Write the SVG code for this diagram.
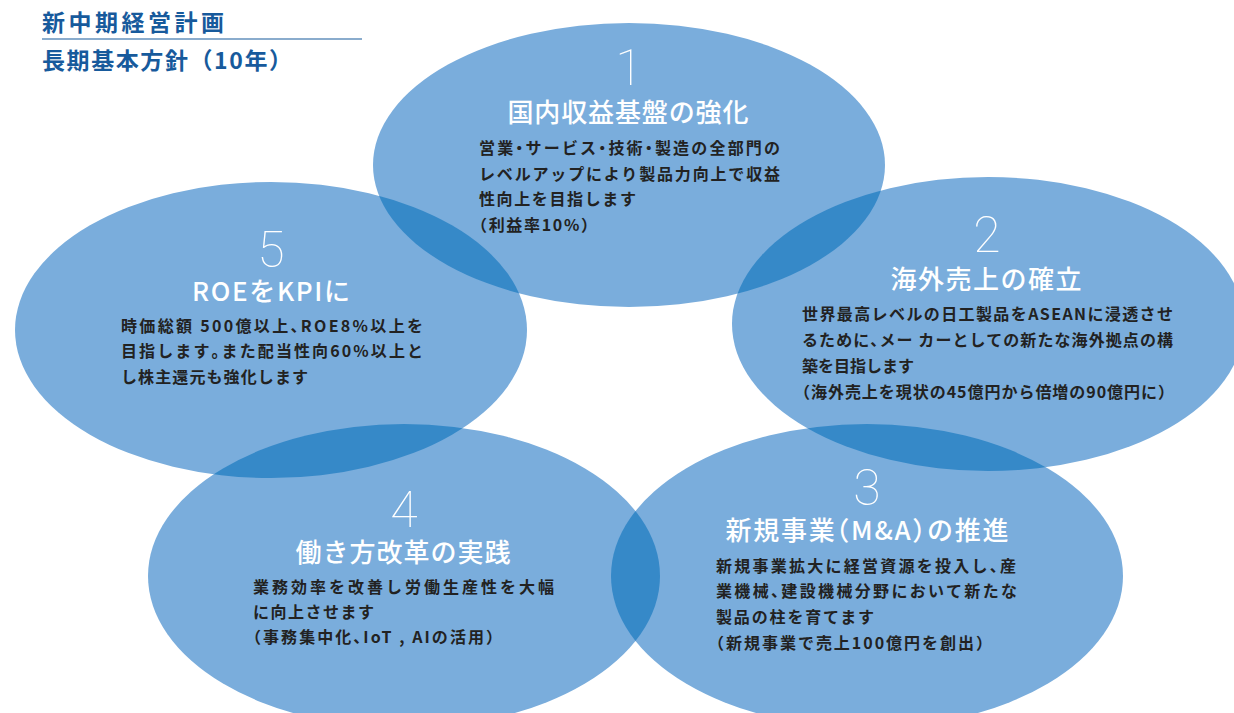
<svg xmlns="http://www.w3.org/2000/svg" xmlns:xlink="http://www.w3.org/1999/xlink" width="1234" height="713" viewBox="0 0 1234 713">
<style>
.bub{fill:#7aaddc}
.lens{fill:#3689c8}
.num{font-family:Roboto,"Open Sans",sans-serif;font-weight:100;font-size:50px;fill:#fff;text-anchor:middle}
.ttl{font-family:"Noto Sans CJK JP",sans-serif;font-weight:500;font-size:26px;fill:#fff;text-anchor:middle}
.body{font-family:"Noto Sans CJK JP",sans-serif;font-weight:700;font-size:16px;fill:#222}
.hd{font-family:"Noto Sans CJK JP",sans-serif;font-weight:700;font-size:23px;fill:#175a9c}
.h{font-feature-settings:"halt"}
</style>
<defs>
<ellipse id="e1" cx="629" cy="165" rx="256" ry="142"/>
<ellipse id="e2" cx="988" cy="324" rx="256" ry="147"/>
<ellipse id="e3" cx="867" cy="576" rx="256" ry="152"/>
<ellipse id="e4" cx="404" cy="576" rx="256" ry="152"/>
<ellipse id="e5" cx="271" cy="330" rx="256" ry="148"/>
<clipPath id="c1"><use xlink:href="#e1"/></clipPath>
<clipPath id="c2"><use xlink:href="#e2"/></clipPath>
<clipPath id="c3"><use xlink:href="#e3"/></clipPath>
<clipPath id="c5"><use xlink:href="#e5"/></clipPath>
</defs>

<g id="header">
<text class="hd" x="42" y="31" textLength="182" lengthAdjust="spacing">新中期経営計画</text>
<line x1="42" y1="39" x2="362" y2="39" stroke="#175a9c" stroke-width="1.2"/>
<text class="hd" x="42" y="68.5" textLength="250" lengthAdjust="spacing">長期基本方針（10年）</text>
</g>

<g id="node1">
<use xlink:href="#e1" class="bub"/>
<text class="num" x="629" y="85">1</text>
<text class="ttl" x="628" y="122" textLength="241" lengthAdjust="spacing">国内収益基盤の強化</text>
<text class="body" x="479" y="154" textLength="301" lengthAdjust="spacing">営業<tspan class="h">・</tspan>サービス<tspan class="h">・</tspan>技術<tspan class="h">・</tspan>製造の全部門の</text>
<text class="body" x="479" y="180" textLength="301" lengthAdjust="spacing">レベルアップにより製品力向上で収益</text>
<text class="body" x="479" y="205" textLength="157" lengthAdjust="spacing">性向上を目指します</text>
<text class="body" x="479" y="231" textLength="110" lengthAdjust="spacing"><tspan class="h">（</tspan>利益率10%<tspan class="h">）</tspan></text>
</g>

<g id="node2">
<use xlink:href="#e2" class="bub"/>
<text class="num" x="987" y="252">2</text>
<text class="ttl" x="986" y="289" textLength="191" lengthAdjust="spacing">海外売上の確立</text>
<text class="body" x="802" y="320" textLength="371" lengthAdjust="spacing">世界最高レベルの日工製品をASEANに浸透させ</text>
<text class="body" x="802" y="346" textLength="371" lengthAdjust="spacing">るために<tspan class="h">、</tspan>メー カーとしての新たな海外拠点の構</text>
<text class="body" x="802" y="372" textLength="112" lengthAdjust="spacing">築を目指します</text>
<text class="body" x="802" y="398" textLength="364" lengthAdjust="spacing"><tspan class="h">（</tspan>海外売上を現状の45億円から倍増の90億円に<tspan class="h">）</tspan></text>
</g>

<g id="node5">
<use xlink:href="#e5" class="bub"/>
<text class="num" x="271" y="267">5</text>
<text class="ttl" x="271" y="301" textLength="158" lengthAdjust="spacing">ROEをKPIに</text>
<text class="body" x="121" y="332" textLength="302" lengthAdjust="spacing">時価総額 500億以上<tspan class="h">、</tspan>ROE8%以上を</text>
<text class="body" x="121" y="357" textLength="302" lengthAdjust="spacing">目指します<tspan class="h">。</tspan>また配当性向60%以上と</text>
<text class="body" x="121" y="383" textLength="187" lengthAdjust="spacing">し株主還元も強化します</text>
</g>

<g id="node4">
<use xlink:href="#e4" class="bub"/>
<text class="num" x="404" y="527">4</text>
<text class="ttl" x="403" y="562" textLength="215" lengthAdjust="spacing">働き方改革の実践</text>
<text class="body" x="253" y="593" textLength="301" lengthAdjust="spacing">業務効率を改善し労働生産性を大幅</text>
<text class="body" x="253" y="618" textLength="121" lengthAdjust="spacing">に向上させます</text>
<text class="body" x="253" y="643" textLength="241" lengthAdjust="spacing"><tspan class="h">（</tspan>事務集中化<tspan class="h">、</tspan>IoT , AIの活用<tspan class="h">）</tspan></text>
</g>

<g id="node3">
<use xlink:href="#e3" class="bub"/>
<text class="num" x="867" y="505">3</text>
<text class="ttl" x="867" y="540" textLength="283" lengthAdjust="spacing">新規事業<tspan class="h">（</tspan>M&amp;A<tspan class="h">）</tspan>の推進</text>
<text class="body" x="716" y="572" textLength="300" lengthAdjust="spacing">新規事業拡大に経営資源を投入し<tspan class="h">、</tspan>産</text>
<text class="body" x="716" y="597" textLength="301" lengthAdjust="spacing">業機械<tspan class="h">、</tspan>建設機械分野において新たな</text>
<text class="body" x="716" y="623" textLength="158" lengthAdjust="spacing">製品の柱を育てます</text>
<text class="body" x="716" y="649" textLength="268" lengthAdjust="spacing"><tspan class="h">（</tspan>新規事業で売上100億円を創出<tspan class="h">）</tspan></text>
</g>

<g id="overlaps">
<use xlink:href="#e5" class="lens" clip-path="url(#c1)"/>
<use xlink:href="#e2" class="lens" clip-path="url(#c1)"/>
<use xlink:href="#e3" class="lens" clip-path="url(#c2)"/>
<use xlink:href="#e4" class="lens" clip-path="url(#c3)"/>
<use xlink:href="#e4" class="lens" clip-path="url(#c5)"/>
</g>
</svg>
